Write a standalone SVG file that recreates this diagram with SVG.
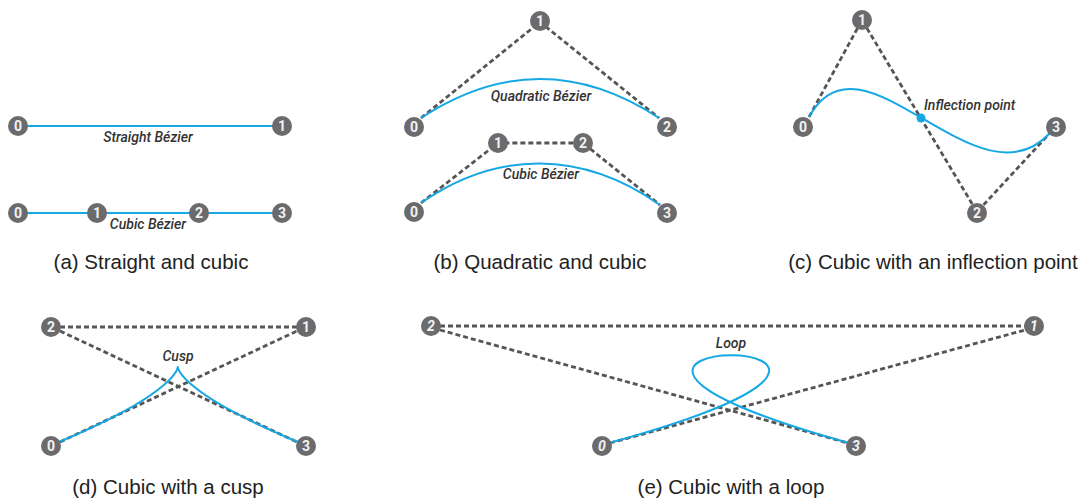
<svg xmlns="http://www.w3.org/2000/svg" width="1087" height="500" viewBox="0 0 1087 500">
<style>
.d{fill:none;stroke:#555;stroke-width:2.8;stroke-dasharray:5 3}
.c{fill:none;stroke:#16a8e3;stroke-width:2}
.n circle{fill:#6b6b6d}
.n text{font-family:Roboto,"Liberation Sans",sans-serif;font-size:14px;font-weight:bold;fill:#f2f2f2;text-anchor:middle}
.n.i text{font-style:italic}
.l{font-family:Roboto,"Liberation Sans",sans-serif;font-size:14px;font-weight:500;font-style:italic;fill:#333;text-anchor:middle}
.cap{font-family:"Liberation Sans",Arial,sans-serif;font-size:20.5px;fill:#222;text-anchor:middle}
</style>
<rect width="1087" height="500" fill="#fff"/>
<g id="connectors">
<!-- (a) -->
<line class="c" x1="18" y1="126" x2="282" y2="126"/>
<line class="c" x1="18" y1="213" x2="282" y2="213"/>
<!-- (b) -->
<polyline class="d" points="421,118 540,22 659,118"/>
<path class="c" d="M421,118 Q540,40 659,118"/>
<polyline class="d" points="421,203 498,143 583,143 660,205"/>
<path class="c" d="M421,203 C497,150 582,150 660,205"/>
<!-- (c) -->
<polyline class="d" points="809,117 862,20 977,212 1050,133"/>
<path class="c" d="M809,117 C862,20 977,212 1050,133"/>
<!-- (d) -->
<line class="d" x1="60" y1="327" x2="297" y2="327"/>
<line class="d" x1="60" y1="331" x2="297" y2="442"/>
<line class="d" x1="60" y1="442" x2="297" y2="331"/>
<path class="c" d="M59,442 C297,342 58,342 298,442"/>
<!-- (e) -->
<line class="d" x1="440" y1="326" x2="1025" y2="326"/>
<line class="d" x1="440" y1="330" x2="848" y2="443"/>
<line class="d" x1="610" y1="443" x2="1025" y2="330"/>
<path class="c" d="M609,443 C1034,326 430,326 849,443"/>
</g>
<circle cx="921" cy="118" r="4.5" fill="#16a8e3"/>
<g id="labels">
<text class="l" x="148" y="142">Straight Bézier</text>
<text class="l" x="148" y="229">Cubic Bézier</text>
<text class="l" x="541" y="101">Quadratic Bézier</text>
<text class="l" x="541" y="179">Cubic Bézier</text>
<text class="l" x="924" y="110" style="text-anchor:start">Inflection point</text>
<text class="l" x="178" y="361">Cusp</text>
<text class="l" x="731" y="348">Loop</text>
</g>
<g id="a-s0" class="n"><circle cx="18" cy="126" r="10"/><text x="18" y="131">0</text></g>
<g id="a-s1" class="n"><circle cx="282" cy="126" r="10"/><text x="282" y="131">1</text></g>
<g id="a-c0" class="n"><circle cx="18" cy="213" r="10"/><text x="18" y="218">0</text></g>
<g id="a-c1" class="n"><circle cx="97" cy="213" r="10"/><text x="97" y="218">1</text></g>
<g id="a-c2" class="n"><circle cx="199" cy="213" r="10"/><text x="199" y="218">2</text></g>
<g id="a-c3" class="n"><circle cx="282" cy="213" r="10"/><text x="282" y="218">3</text></g>
<g id="b-q0" class="n"><circle cx="414" cy="127" r="10"/><text x="414" y="132">0</text></g>
<g id="b-q1" class="n"><circle cx="540" cy="21" r="10"/><text x="540" y="26">1</text></g>
<g id="b-q2" class="n"><circle cx="667" cy="127" r="10"/><text x="667" y="132">2</text></g>
<g id="b-c0" class="n"><circle cx="414" cy="212" r="10"/><text x="414" y="217">0</text></g>
<g id="b-c1" class="n"><circle cx="498" cy="143" r="10"/><text x="498" y="148">1</text></g>
<g id="b-c2" class="n"><circle cx="583" cy="143" r="10"/><text x="583" y="148">2</text></g>
<g id="b-c3" class="n"><circle cx="667" cy="213" r="10"/><text x="667" y="218">3</text></g>
<g id="c-0" class="n"><circle cx="803" cy="127" r="10"/><text x="803" y="132">0</text></g>
<g id="c-1" class="n"><circle cx="862" cy="20" r="10"/><text x="862" y="25">1</text></g>
<g id="c-2" class="n"><circle cx="977" cy="213" r="10"/><text x="977" y="218">2</text></g>
<g id="c-3" class="n"><circle cx="1056" cy="127" r="10"/><text x="1056" y="132">3</text></g>
<g id="d-2" class="n"><circle cx="51" cy="327" r="10"/><text x="51" y="332">2</text></g>
<g id="d-1" class="n"><circle cx="306" cy="327" r="10"/><text x="306" y="332">1</text></g>
<g id="d-0" class="n"><circle cx="51" cy="446" r="10"/><text x="51" y="451">0</text></g>
<g id="d-3" class="n"><circle cx="306" cy="446" r="10"/><text x="306" y="451">3</text></g>
<g id="e-2" class="n i"><circle cx="431" cy="326" r="10"/><text x="431" y="331">2</text></g>
<g id="e-1" class="n i"><circle cx="1034" cy="326" r="10"/><text x="1034" y="331">1</text></g>
<g id="e-0" class="n i"><circle cx="602" cy="446" r="10"/><text x="602" y="451">0</text></g>
<g id="e-3" class="n i"><circle cx="856" cy="446" r="10"/><text x="856" y="451">3</text></g>
<g id="captions">
<text class="cap" x="151" y="269">(a) Straight and cubic</text>
<text class="cap" x="540" y="269">(b) Quadratic and cubic</text>
<text class="cap" x="933" y="269">(c) Cubic with an inflection point</text>
<text class="cap" x="168" y="494">(d) Cubic with a cusp</text>
<text class="cap" x="731" y="494">(e) Cubic with a loop</text>
</g>
</svg>
